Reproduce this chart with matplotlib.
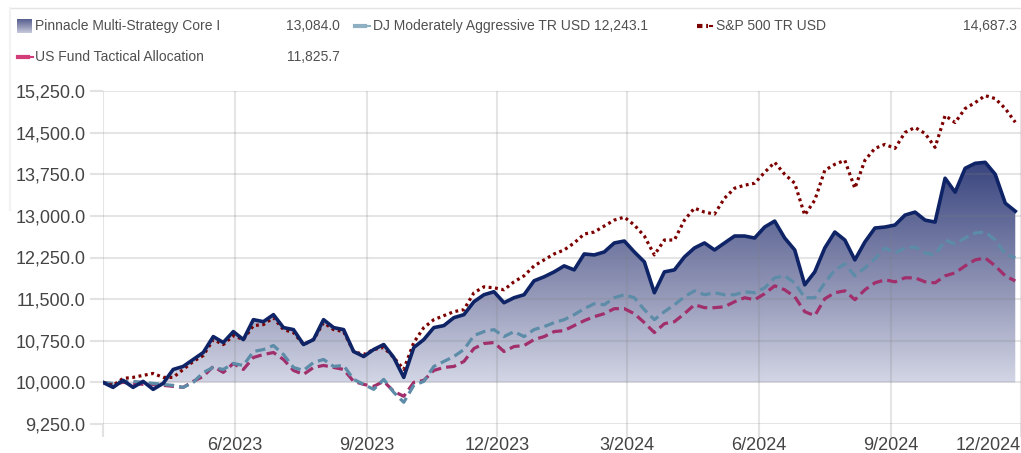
import numpy as np
import pandas as pd
import matplotlib
matplotlib.use("Agg")
import matplotlib.pyplot as plt
import matplotlib.dates as mdates
from matplotlib.colors import LinearSegmentedColormap
from matplotlib.lines import Line2D

# weekly growth of 10,000
dates = pd.date_range("2023-03-01", periods=92, freq="7D")

core = [10000, 9910, 10036, 9910, 10018, 9874, 9982, 10233, 10287, 10413,
        10538, 10825, 10718, 10915, 10771, 11130, 11094, 11220, 10987, 10951,
        10682, 10771, 11130, 10987, 10951, 10556, 10466, 10592, 10682, 10449,
        10090, 10628, 10771, 10987, 11023, 11166, 11220, 11453, 11579, 11633,
        11435, 11525, 11579, 11830, 11902, 11991, 12099, 12027, 12314, 12296,
        12350, 12512, 12547, 12350, 12171, 11615, 11991, 12027, 12260, 12422,
        12512, 12386, 12512, 12637, 12637, 12601, 12799, 12906, 12601, 12386,
        11758, 11991, 12422, 12709, 12565, 12207, 12530, 12781, 12799, 12835,
        13014, 13068, 12924, 12888, 13678, 13427, 13857, 13947, 13965, 13749,
        13229, 13084]

dj = [10000, 9982, 10018, 10018, 10000, 9982, 9964, 9946, 9910, 10000,
      10179, 10269, 10233, 10341, 10305, 10556, 10592, 10664, 10502, 10269,
      10215, 10359, 10413, 10287, 10305, 10054, 9964, 9874, 10054, 9821,
      9641, 9946, 10018, 10287, 10377, 10466, 10592, 10843, 10915, 10951,
      10825, 10915, 10825, 10951, 11005, 11076, 11130, 11220, 11328, 11417,
      11399, 11525, 11579, 11525, 11310, 11130, 11274, 11399, 11543, 11650,
      11579, 11615, 11579, 11579, 11633, 11615, 11704, 11884, 11920, 11794,
      11525, 11525, 11794, 12027, 12135, 11920, 12063, 12225, 12422, 12332,
      12422, 12440, 12332, 12296, 12565, 12494, 12601, 12691, 12709, 12565,
      12314, 12243]

sp500 = [10000, 9946, 10072, 10090, 10126, 10161, 10090, 10090, 10233, 10377,
         10484, 10771, 10682, 10843, 10771, 11023, 11041, 11166, 10951, 10897,
         10682, 10771, 11076, 10951, 10915, 10556, 10502, 10592, 10628, 10449,
         10233, 10718, 10987, 11130, 11202, 11274, 11310, 11615, 11722, 11704,
         11668, 11812, 11920, 12099, 12207, 12314, 12386, 12512, 12673, 12709,
         12817, 12924, 12978, 12835, 12637, 12296, 12565, 12565, 12924, 13140,
         13068, 13032, 13319, 13498, 13552, 13588, 13785, 13965, 13749, 13588,
         13014, 13283, 13821, 13929, 14001, 13498, 14001, 14216, 14288, 14216,
         14503, 14593, 14485, 14234, 14808, 14682, 14934, 15041, 15167, 15113,
         14934, 14687]

tactical = [10000, 9964, 10000, 9982, 9964, 9964, 9946, 9928, 9910, 10018,
            10108, 10287, 10179, 10341, 10233, 10449, 10502, 10538, 10413, 10215,
            10144, 10269, 10305, 10269, 10233, 10018, 9964, 9928, 10018, 9839,
            9749, 10000, 10036, 10215, 10269, 10287, 10377, 10610, 10700, 10718,
            10556, 10646, 10664, 10771, 10825, 10915, 10933, 11023, 11112, 11184,
            11238, 11328, 11328, 11238, 11076, 10897, 11058, 11094, 11238, 11399,
            11346, 11346, 11363, 11453, 11525, 11489, 11597, 11740, 11668, 11543,
            11274, 11202, 11507, 11615, 11650, 11489, 11668, 11794, 11848, 11812,
            11884, 11884, 11812, 11794, 11920, 11973, 12099, 12207, 12243, 12099,
            11920, 11826]

names = ["Pinnacle Multi-Strategy Core I", "DJ Moderately Aggressive TR USD",
         "S&P 500 TR USD", "US Fund Tactical Allocation"]
last_values = ["13,084.0", "12,243.1", "14,687.3", "11,825.7"]

y_ticks = np.arange(9250, 15251, 750)
x_ticks = pd.to_datetime(["2023-03-01", "2023-06-01", "2023-09-01", "2023-12-01",
                          "2024-03-01", "2024-06-01", "2024-09-01", "2024-12-01"])
x_labels = ["", "6/2023", "9/2023", "12/2023", "3/2024", "6/2024", "9/2024", "12/2024"]

NAVY = "#0f2466"
STEEL = "#5d8ca8"
DARKRED = "#7d0000"
PLUM = "#a02f6c"
TXT = "#505050"
sans = ["Liberation Sans", "DejaVu Sans"]

fig = plt.figure(figsize=(10.21, 4.53), dpi=100)
ax = fig.add_axes([103 / 1021, 1 - 424 / 453, 918 / 1021, (424 - 91) / 453])

x = mdates.date2num(dates)
core_arr = np.array(core)

# gradient area under the fund line, down to the 10,000 start level
poly = ax.fill_between(x, core_arr, 10000, color="none", lw=0)
cmap = LinearSegmentedColormap.from_list(
    "fade", [(0.0, "#dfe1ec"), (0.158, "#d3d6e5"), (0.5, "#9397b7"), (1.0, "#38447e")])
grad = np.linspace(0, 1, 256).reshape(-1, 1)
img = ax.imshow(grad, cmap=cmap, aspect="auto", origin="lower",
                extent=[x[0], x[-1], 9250, 14000], zorder=1, vmin=0, vmax=1)
img.set_clip_path(poly.get_paths()[0], transform=ax.transData)

ax.plot(x, tactical, color=PLUM, lw=2.3, dashes=(3.2, 1.6), zorder=3)
ax.plot(x, dj, color=STEEL, lw=2.3, dashes=(3.2, 1.6), zorder=3)
ax.plot(x, sp500, color=DARKRED, lw=2.3, dashes=(0.9, 1.1), zorder=4)
ax.plot(x, core, color=NAVY, lw=2.6, zorder=5, solid_joinstyle="round")

ax.set_ylim(9250, 15250)
ax.set_xlim(mdates.date2num(x_ticks[0]), mdates.date2num(x_ticks[-1]))
ax.set_yticks(y_ticks)
ax.set_yticklabels([f"{v:,.1f}" for v in y_ticks], fontsize=13, color="#444444",
                   family=sans)
ax.set_xticks(mdates.date2num(x_ticks))
ax.set_xticklabels(x_labels, fontsize=13, color="#444444", family=sans)
ax.get_xticklabels()[-1].set_ha("right")
ax.tick_params(axis="both", length=9.5, width=1.5, color="#e2e2e2", pad=3)
ax.tick_params(axis="x", pad=0)
for s in ax.spines.values():
    s.set_visible(False)
ax.grid(True, color="#808080", alpha=0.2, lw=1.5)
for gl in ax.get_xgridlines() + ax.get_ygridlines():
    gl.set_zorder(2)

# legend block at the top
def fx(px):
    return px / 1021

def fy(py):
    return 1 - py / 453

fig.add_artist(Line2D([fx(10), fx(1021)], [fy(8), fy(8)], color="#e4e4e4", lw=1,
                      transform=fig.transFigure))
fig.add_artist(Line2D([fx(10), fx(10)], [fy(8), fy(210)], color="#f2f2f2", lw=1.5,
                      transform=fig.transFigure))

sw = fig.add_axes([fx(17), fy(33), fx(15), 14 / 453])
sw.imshow(grad[::-1][40:200], cmap=cmap, aspect="auto", vmin=0, vmax=1)
sw.set_axis_off()

rows = [(35, 26, 340), (373, 26, 648), (716, 26, 1017), (35, 57, 340)]
for (tx, ty, vx), name, val in zip(rows, names, last_values):
    fig.text(fx(tx), fy(ty), name, fontsize=10, color=TXT, family=sans,
             va="center", ha="left")
    fig.text(fx(vx), fy(ty), val, fontsize=10, color=TXT, family=sans,
             va="center", ha="right")

def dash_dot(x0, y0, color, sq=False):
    if sq:
        fig.add_artist(Line2D([fx(x0), fx(x0 + 11)], [fy(y0), fy(y0)], color=color,
                              lw=3, dashes=(1.3, 0.9), transform=fig.transFigure))
    else:
        fig.add_artist(Line2D([fx(x0), fx(x0 + 10)], [fy(y0), fy(y0)], color=color,
                              lw=3, transform=fig.transFigure))
    fig.add_artist(Line2D([fx(x0 + 13), fx(x0 + 15)], [fy(y0), fy(y0)],
                          color=color, lw=1.5, transform=fig.transFigure))

dash_dot(355, 26, "#8fb0c2")
dash_dot(697, 26, DARKRED, sq=True)
dash_dot(18, 57, "#d23c78")

fig.savefig("out.png", dpi=100)
